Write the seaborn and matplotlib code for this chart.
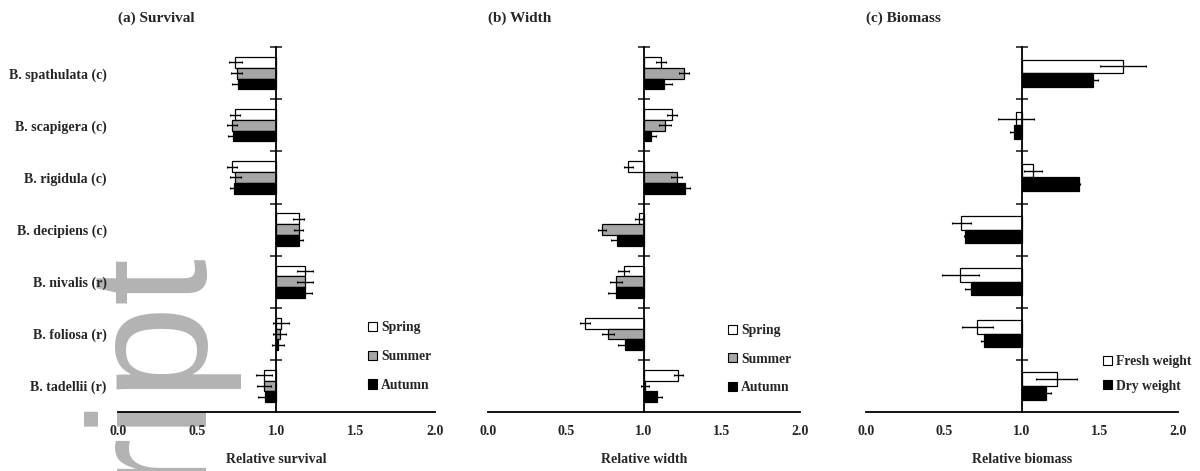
import numpy as np
import pandas as pd
import matplotlib
matplotlib.use('Agg')
import matplotlib.pyplot as plt
import seaborn as sns
from matplotlib.ticker import FixedLocator, FuncFormatter
from matplotlib.patches import Patch

# 物种（c = 常见, r = 稀有）
species = ['B. spathulata (c)', 'B. scapigera (c)', 'B. rigidula (c)', 'B. decipiens (c)',
           'B. nivalis (r)', 'B. foliosa (r)', 'B. tadellii (r)']
seasons = ['Spring', 'Summer', 'Autumn']
weights = ['Fresh weight', 'Dry weight']
xticks = [0.0, 0.5, 1.0, 1.5, 2.0]

# (a) Survival
surv_spring = [0.74, 0.74, 0.72, 1.14, 1.18, 1.03, 0.92]
surv_spring_err = [0.04, 0.03, 0.03, 0.035, 0.05, 0.05, 0.05]
surv_summer = [0.75, 0.72, 0.74, 1.14, 1.18, 1.02, 0.92]
surv_summer_err = [0.035, 0.03, 0.035, 0.03, 0.05, 0.04, 0.045]
surv_autumn = [0.76, 0.725, 0.735, 1.14, 1.18, 1.01, 0.93]
surv_autumn_err = [0.04, 0.03, 0.03, 0.03, 0.047, 0.04, 0.045]

# (b) Width
width_spring = [1.11, 1.18, 0.90, 0.965, 0.87, 0.62, 1.22]
width_spring_err = [0.032, 0.033, 0.03, 0.02, 0.034, 0.032, 0.029]
width_summer = [1.255, 1.135, 1.21, 0.73, 0.82, 0.77, 1.005]
width_summer_err = [0.034, 0.037, 0.034, 0.027, 0.038, 0.037, 0.025]
width_autumn = [1.13, 1.045, 1.26, 0.825, 0.82, 0.875, 1.085]
width_autumn_err = [0.048, 0.03, 0.034, 0.035, 0.048, 0.04, 0.03]

# (c) Biomass
bio_fresh = [1.647, 0.96, 1.07, 0.611, 0.605, 0.712, 1.222]
bio_fresh_err = [0.147, 0.117, 0.06, 0.06, 0.117, 0.10, 0.13]
bio_dry = [1.455, 0.947, 1.363, 0.635, 0.673, 0.758, 1.154]
bio_dry_err = [0.03, 0.025, 0.01, 0.01, 0.036, 0.02, 0.03]

sns.set_style('white')
plt.rcParams['font.family'] = ['Liberation Serif', 'DejaVu Serif']
plt.rcParams['font.weight'] = 'bold'
plt.rcParams['axes.titleweight'] = 'bold'
plt.rcParams['axes.labelweight'] = 'bold'

fig = plt.figure(figsize=(12, 4.71), dpi=100)

# 背景水印
fig.text(0.059, 0.482, 'Manuscript', rotation=90, ha='left', va='top',
         fontsize=122, color='#b3b3b3', family='Liberation Sans', weight='normal', zorder=-1)


def 画面板(ax, groups, values, errors, colors, bar_w, title, xlabel, show_y, leg_anchor, spacing):
	rows = []
	for g, vals in zip(groups, values):
		for sp, v in zip(species, vals):
			rows.append({'species': sp, 'group': g, 'dev': v - 1})
	df = pd.DataFrame(rows)
	sns.barplot(data=df, y='species', x='dev', hue='group', order=species, hue_order=groups,
	            palette=colors, orient='h', width=bar_w, edgecolor='black', linewidth=0.9,
	            errorbar=None, legend=False, ax=ax, saturation=1)
	# 误差线
	for i, (vals, errs) in enumerate(zip(values, errors)):
		bars = ax.containers[i]
		ys = [p.get_y() + p.get_height() / 2 for p in bars.patches]
		ax.errorbar(np.array(vals) - 1, ys, xerr=errs, fmt='none', ecolor='black',
		            elinewidth=1, capsize=1, capthick=0.8, zorder=5)

	ax.set_facecolor('none')
	ax.set_xlim(-1, 1)
	ax.set_ylim(6.5, -0.5)
	for s in ['top', 'left']:
		ax.spines[s].set_visible(False)
	ax.spines['right'].set_position(('data', 0))
	ax.spines['right'].set_linewidth(1.3)
	ax.spines['right'].set_color('black')
	ax.spines['bottom'].set_linewidth(1.3)
	ax.spines['bottom'].set_color('black')

	ax.set_xticks([t - 1 for t in xticks])
	ax.xaxis.set_major_formatter(FuncFormatter(lambda v, p: f'{v + 1:.1f}'))
	ax.tick_params(axis='x', length=0, pad=9, labelsize=10)
	ax.yaxis.set_minor_locator(FixedLocator(np.arange(-0.5, 6, 1)))
	ax.tick_params(axis='y', which='major', length=0, left=False, right=False,
	               labelleft=show_y, labelsize=10, pad=8)
	ax.tick_params(axis='y', which='minor', left=False, right=True, direction='inout',
	               length=8, width=1.2)
	ax.set_ylabel('')
	ax.set_xlabel(xlabel, fontsize=10, labelpad=11)
	ax.set_title(title, loc='left', fontsize=11, pad=18)

	handles = [Patch(facecolor=c, edgecolor='black', linewidth=0.8) for c in colors]
	ax.legend(handles, groups, loc='center left', bbox_to_anchor=leg_anchor, frameon=False,
	          handlelength=0.65, handleheight=0.65, handletextpad=0.3, labelspacing=spacing,
	          fontsize=9.8)


season_colors = ['white', '#a6a6a6', 'black']
ax_a = fig.add_axes([0.0983, 0.125, 0.264, 0.775])
ax_b = fig.add_axes([0.4067, 0.125, 0.26, 0.775])
ax_c = fig.add_axes([0.7217, 0.125, 0.26, 0.775])

画面板(ax_a, seasons, [surv_spring, surv_summer, surv_autumn],
      [surv_spring_err, surv_summer_err, surv_autumn_err], season_colors, 0.62,
      '(a) Survival', 'Relative survival', True, (0.751, 0.152), 1.15)
画面板(ax_b, seasons, [width_spring, width_summer, width_autumn],
      [width_spring_err, width_summer_err, width_autumn_err], season_colors, 0.62,
      '(b) Width', 'Relative width', False, (0.731, 0.145), 1.15)
画面板(ax_c, weights, [bio_fresh, bio_dry], [bio_fresh_err, bio_dry_err],
      ['white', 'black'], 0.52, '(c) Biomass', 'Relative biomass', False, (0.721, 0.105), 0.85)

fig.savefig('out.png', dpi=100)
